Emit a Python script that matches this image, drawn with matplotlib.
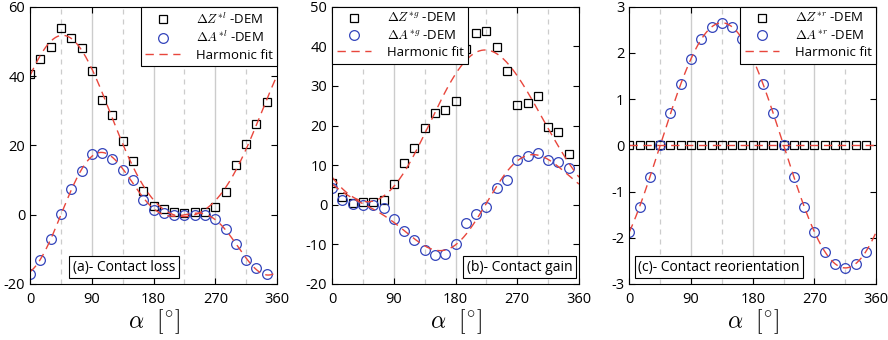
import numpy as np
import matplotlib
matplotlib.use("Agg")
import matplotlib.pyplot as plt

plt.rcParams['font.family'] = ['Open Sans', 'DejaVu Sans']
plt.rcParams['mathtext.fontset'] = 'cm'
plt.rcParams['axes.unicode_minus'] = False

# angles of DEM samples (deg)
alpha = np.arange(0, 360, 15)

# (a) contact loss
dZ_loss = [40.6, 45.0, 48.4, 53.9, 51.1, 48.1, 41.5, 33.1, 28.8, 21.2, 15.5, 6.8,
           2.5, 1.5, 0.7, 0.6, 0.9, 0.9, 2.3, 6.4, 14.3, 20.3, 26.2, 32.6]
dA_loss = [-17.0, -13.1, -7.1, 0.3, 7.4, 12.7, 17.4, 17.7, 16.2, 13.0, 10.0, 4.2,
           1.3, 0.4, 0.0, 0.0, -0.1, -0.2, -1.3, -4.1, -8.4, -13.0, -15.5, -17.0]

# (b) contact gain
dZ_gain = [5.6, 1.9, 0.5, 0.8, 0.8, 1.3, 5.2, 10.6, 14.4, 19.4, 23.1, 23.9,
           26.1, 39.3, 43.5, 43.8, 39.9, 33.7, 25.2, 25.8, 27.5, 19.6, 18.4, 12.8]
dA_gain = [4.1, 1.3, 0.2, 0.0, 0.0, -0.9, -3.7, -6.7, -8.9, -11.4, -12.6, -12.5,
           -10.0, -4.6, -2.3, -0.6, 4.1, 6.2, 11.4, 12.3, 13.1, 11.4, 10.9, 9.4]

# (c) contact reorientation
dZ_reor = [0.0] * 24
dA_reor = [-1.88, -1.33, -0.69, 0.0, 0.69, 1.33, 1.88, 2.30, 2.56, 2.65, 2.56, 2.30,
           1.88, 1.33, 0.69, 0.0, -0.69, -1.33, -1.88, -2.30, -2.56, -2.65, -2.56, -2.30]


def harmonic_fit(a_deg, y, order, a_out):
    a = np.radians(a_deg)
    cols = [np.ones_like(a)]
    for k in range(1, order + 1):
        cols += [np.cos(k * a), np.sin(k * a)]
    coef = np.linalg.lstsq(np.column_stack(cols), np.asarray(y), rcond=None)[0]
    b = np.radians(a_out)
    out = coef[0] * np.ones_like(b)
    for k in range(1, order + 1):
        out += coef[2 * k - 1] * np.cos(k * b) + coef[2 * k] * np.sin(k * b)
    return out


panels = [
    (dZ_loss, dA_loss, 'l', (-20, 60), np.arange(-20, 61, 20), 'upper right',
     '(a)- Contact loss', 0.38),
    (dZ_gain, dA_gain, 'g', (-20, 50), np.arange(-20, 51, 10), 'upper left',
     '(b)- Contact gain', 0.76),
    (dZ_reor, dA_reor, 'r', (-3, 3), np.arange(-3, 4, 1), 'upper right',
     '(c)- Contact reorientation', 0.364),
]
lefts = [0.034, 0.374, 0.7087]

fig = plt.figure(figsize=(8.88, 3.4), dpi=100)
red = '#e8463c'
blue = '#3344bb'
afine = np.linspace(0, 360, 361)

for (dZ, dA, sup, ylim, yt, loc, tag, tx), l in zip(panels, lefts):
    ax = fig.add_axes([l, 0.165, 0.278, 0.815])
    for g in (90, 180, 270):
        ax.axvline(g, color='#cccccc', lw=1.0, zorder=0)
    for g in (45, 135, 225, 315):
        ax.axvline(g, color='#cccccc', lw=0.9, ls=(0, (4, 4)), zorder=0)
    ax.plot(alpha, dZ, 's', mfc='none', mec='black', ms=5.5, mew=0.9,
            label=r'$\mathit{\Delta Z}^{*%s}$ -DEM' % sup)
    ax.plot(alpha, dA, 'o', mfc='none', mec=blue, ms=7, mew=0.9,
            label=r'$\mathit{\Delta A}^{*%s}$ -DEM' % sup)
    ax.plot(afine, harmonic_fit(alpha, dZ, 2, afine), color=red, lw=1.0,
            ls=(0, (6, 4)), label='Harmonic fit')
    ax.plot(afine, harmonic_fit(alpha, dA, 2, afine), color=red, lw=1.0,
            ls=(0, (6, 4)))
    ax.set_xlim(0, 360)
    ax.set_ylim(*ylim)
    ax.set_xticks([0, 90, 180, 270, 360])
    ax.set_yticks(yt)
    ax.tick_params(direction='in', top=True, right=True, labelsize=10.5,
                   length=4, width=0.8)
    ax.tick_params(axis='x', pad=6)
    for s in ax.spines.values():
        s.set_linewidth(0.8)
    ax.set_xlabel(r'$\alpha\ \ [^{\circ}]$', fontsize=17, labelpad=0)
    leg = ax.legend(loc=loc, fontsize=9.5, numpoints=1, handlelength=2.6,
                    borderaxespad=0.0, fancybox=False, framealpha=1,
                    edgecolor='black', borderpad=0.35, labelspacing=0.25,
                    handletextpad=1.2)
    leg.get_frame().set_linewidth(0.8)
    ax.text(tx, 0.06, tag, transform=ax.transAxes, ha='center', va='center',
            fontsize=10,
            bbox=dict(boxstyle='square,pad=0.25', fc='white', ec='black', lw=0.8))

fig.savefig('out.png', dpi=100)
